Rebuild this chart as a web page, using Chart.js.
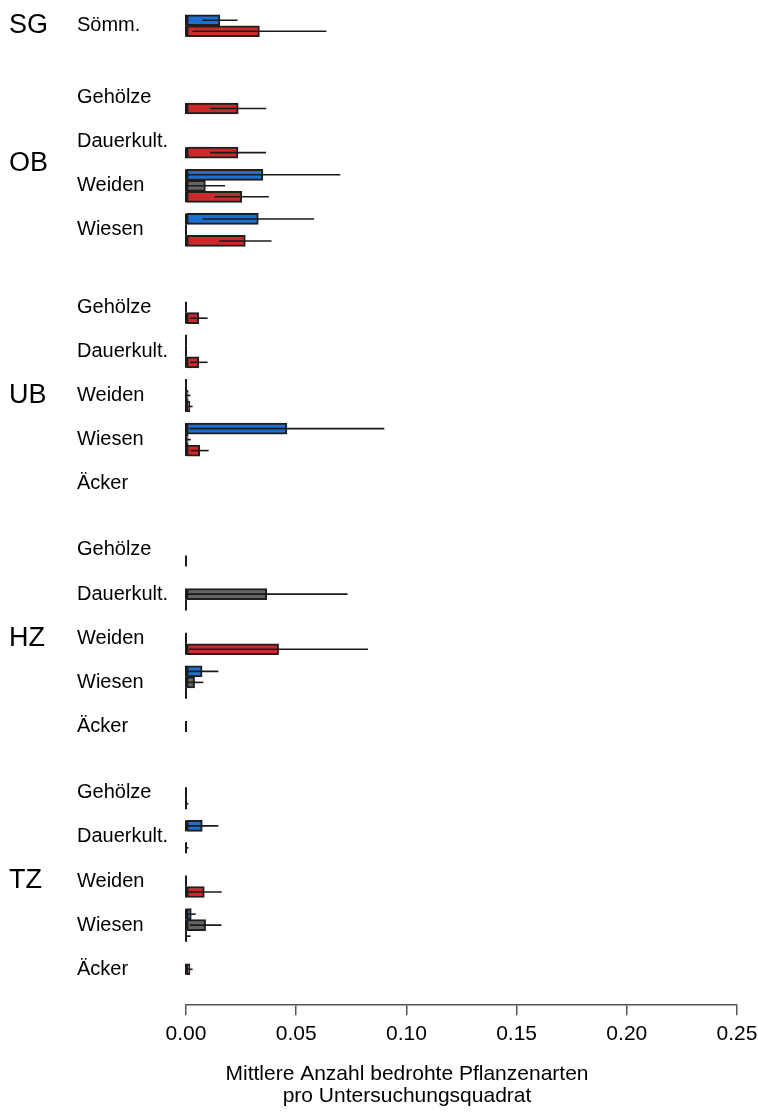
<!DOCTYPE html>
<html>
<head>
<meta charset="utf-8">
<script src="https://cdn.jsdelivr.net/npm/chart.js@4/dist/chart.umd.min.js"></script>
<style>
  html, body { margin: 0; padding: 0; background: #fff; }
  canvas { display: block; }
</style>
</head>
<body>
<canvas id="chart" width="758" height="1115"></canvas>
<script>
// rows, top to bottom
const regions = ['SG', 'OB', 'UB', 'HZ', 'TZ'];
const regionSize = [1, 4, 5, 5, 5];
const rowNames = [
  'Sömm.',
  'Gehölze', 'Dauerkult.', 'Weiden', 'Wiesen',
  'Gehölze', 'Dauerkult.', 'Weiden', 'Wiesen', 'Äcker',
  'Gehölze', 'Dauerkult.', 'Weiden', 'Wiesen', 'Äcker',
  'Gehölze', 'Dauerkult.', 'Weiden', 'Wiesen', 'Äcker'
];
const xTicks = [0, 0.05, 0.10, 0.15, 0.20, 0.25];
const axisTitle = ['Mittlere Anzahl bedrohte Pflanzenarten', 'pro Untersuchungsquadrat'];

// means and error half-widths; null mean = no bar, null error = no outline at 0
const blueMean = [0.0154, 0, 0, 0.0349, 0.0328, 0, 0, 0, 0.0458, null, 0, 0, 0, 0.0073, null, 0, 0.0074, 0, 0.0024, null];
const blueErr  = [0.0080, null, null, 0.0351, 0.0253, null, 0, 0, 0.0442, null, null, null, null, 0.0074, null, null, 0.0073, null, 0.0020, null];
const grayMean = [null, 0, 0, 0.0088, 0, 0, 0, 0.0010, 0.0010, null, 0, 0.0366, 0, 0.0039, null, 0, 0, 0, 0.0089, null];
const grayErr  = [null, null, null, 0.0089, 0, 0, 0, 0.0010, 0.0012, null, null, 0.0367, 0, 0.0040, null, 0, null, 0, 0.0072, null];
const redMean  = [0.0333, 0.0237, 0.0236, 0.0253, 0.0269, 0.0058, 0.0058, 0.0018, 0.0062, null, 0, 0, 0.0420, 0, 0, 0.0003, 0.0003, 0.0083, 0.0003, 0.0018];
const redErr   = [0.0304, 0.0127, 0.0127, 0.0123, 0.0119, 0.0040, 0.0040, 0.0012, 0.0041, null, 0, 0, 0.0406, 0, 0, 0.0008, 0.0008, 0.0079, 0.0018, 0.0012];

// layout of the category axis (slots of half a bar)
const totalSlots = 180;
const regionStart = [2, 15, 53, 97, 141];
const rowStep = 8;

const FONT = '"Liberation Sans", Arial, sans-serif';

const slotOf = [];
regionSize.forEach((n, k) => {
  for (let j = 0; j < n; j++) slotOf.push(regionStart[k] + j * rowStep);
});
const slotLabels = Array(totalSlots).fill('');
rowNames.forEach((n, i) => { slotLabels[slotOf[i]] = n; });

function spread(a){
  const out = Array(totalSlots).fill(null);
  a.forEach((v, i) => { out[slotOf[i]] = v; });
  return out;
}

const barLines = {
  id: 'barLines',
  afterDatasetsDraw(chart){
    const ctx = chart.ctx, xs = chart.scales.x;
    const x0 = xs.getPixelForValue(0);
    chart.data.datasets.forEach((ds, d) => {
      const meta = chart.getDatasetMeta(d);
      meta.data.forEach((el, i) => {
        const v = ds.data[i], e = ds.errors[i];
        if (v == null || e == null) return;
        const h = el.height;
        ctx.save();
        ctx.strokeStyle = '#1a1a1a';
        ctx.lineWidth = 2;
        ctx.beginPath();
        ctx.moveTo(x0, el.y - h / 2);
        ctx.lineTo(x0, el.y + h / 2);
        ctx.stroke();
        if (e > 0) {
          ctx.lineWidth = 1.6;
          ctx.beginPath();
          ctx.moveTo(xs.getPixelForValue(Math.max(0, v - e)), el.y);
          ctx.lineTo(xs.getPixelForValue(v + e), el.y);
          ctx.stroke();
        }
        ctx.restore();
      });
    });
  }
};

const regionLabels = {
  id: 'regionLabels',
  afterDraw(chart){
    const ys = chart.scales.y, ctx = chart.ctx;
    ctx.save();
    ctx.font = '27px ' + FONT;
    ctx.fillStyle = '#000';
    ctx.textAlign = 'left';
    ctx.textBaseline = 'middle';
    let r = 0;
    regions.forEach((name, k) => {
      const first = slotOf[r], last = slotOf[r + regionSize[k] - 1];
      const y = (ys.getPixelForValue(first) + ys.getPixelForValue(last)) / 2;
      ctx.fillText(name, 9, y);
      r += regionSize[k];
    });
    ctx.restore();
  }
};

function series(mean, err, color){
  return {
    data: spread(mean),
    errors: spread(err),
    backgroundColor: color,
    borderColor: '#1f1f1f',
    borderWidth: 2,
    borderSkipped: false,
    barThickness: 11,
    skipNull: true
  };
}

new Chart(document.getElementById('chart'), {
  type: 'bar',
  data: {
    labels: slotLabels,
    datasets: [
      series(blueMean, blueErr, '#1e6fcf'),
      series(grayMean, grayErr, '#656565'),
      series(redMean, redErr, '#cc2a2a')
    ]
  },
  options: {
    indexAxis: 'y',
    responsive: false,
    animation: false,
    events: [],
    layout: { padding: { top: 8.5, left: 77, right: 21, bottom: 0 } },
    plugins: {
      legend: { display: false },
      tooltip: { enabled: false },
      title: {
        display: true,
        position: 'bottom',
        text: axisTitle,
        color: '#000',
        font: { family: FONT, size: 21, weight: 'normal', lineHeight: 1.03 },
        padding: { top: 10, bottom: 8.3 }
      }
    },
    scales: {
      x: {
        type: 'linear',
        min: xTicks[0],
        max: xTicks[xTicks.length - 1],
        afterBuildTicks(scale){ scale.ticks = xTicks.map(v => ({ value: v })); },
        afterFit(scale){
          scale.height = 48.3;
          scale.paddingLeft = 0;
          scale.paddingRight = 0;
        },
        ticks: {
          color: '#000',
          padding: 6,
          font: { family: FONT, size: 21 },
          callback: v => Number(v).toFixed(2)
        },
        grid: { drawOnChartArea: false, tickLength: 10, color: '#555', lineWidth: 1.5 },
        border: { display: true, color: '#555', width: 1.5 }
      },
      y: {
        type: 'category',
        afterFit(scale){ scale.width = 109; },
        grid: { display: false },
        border: { display: false },
        ticks: {
          autoSkip: false,
          crossAlign: 'far',
          padding: 0,
          color: '#000',
          font: { family: FONT, size: 20 }
        }
      }
    }
  },
  plugins: [barLines, regionLabels]
});
</script>
</body>
</html>
